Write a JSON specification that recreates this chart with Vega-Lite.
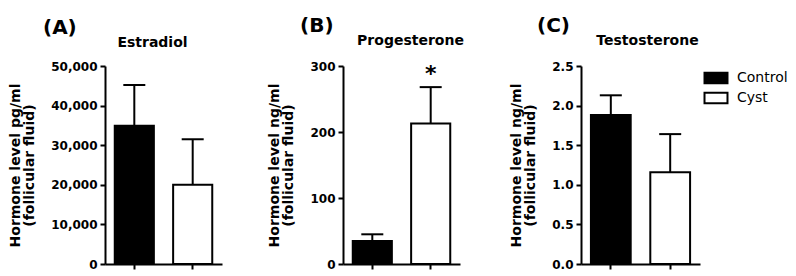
{
  "$schema": "https://vega.github.io/schema/vega-lite/v6.json",
  "background": "white",
  "padding": {"left": 8, "top": 16, "right": 0, "bottom": 0},
  "config": {
    "font": "DejaVu Sans",
    "view": {"stroke": null},
    "axis": {"grid": false, "domainColor": "black", "tickColor": "black", "labelColor": "black", "titleColor": "black", "labelOverlap": false},
    "title": {"color": "black", "fontWeight": "bold", "fontSize": 20, "anchor": "start", "frame": "group", "offset": -3}
  },
  "datasets": {
    "d": [
      {"hormone": "Estradiol", "group": "Control", "mean": 34900, "upper": 45200, "sig": ""},
      {"hormone": "Estradiol", "group": "Cyst", "mean": 20000, "upper": 31500, "sig": ""},
      {"hormone": "Progesterone", "group": "Control", "mean": 35, "upper": 45, "sig": ""},
      {"hormone": "Progesterone", "group": "Cyst", "mean": 213, "upper": 268, "sig": "*"},
      {"hormone": "Testosterone", "group": "Control", "mean": 1.88, "upper": 2.13, "sig": ""},
      {"hormone": "Testosterone", "group": "Cyst", "mean": 1.16, "upper": 1.64, "sig": ""}
    ]
  },
  "bounds": "flush",
  "spacing": 121,
  "hconcat": [
    {
      "width": 117, "height": 198,
      "title": {"text": "(A)", "dx": -62},
      "data": {"name": "d"},
      "transform": [{"filter": "datum.hormone === 'Estradiol'"}],
      "resolve": {"axis": {"x": "independent"}},
      "layer": [
        {
          "mark": {"type": "bar", "stroke": "black", "strokeWidth": 2},
          "encoding": {
            "x": {"field": "group", "type": "nominal", "sort": ["Control", "Cyst"], "scale": {"paddingInner": 0.33, "paddingOuter": 0.167},
                  "axis": {"orient": "bottom", "labels": false, "title": null, "domainWidth": 2, "tickWidth": 2, "tickSize": 5}},
            "y": {"field": "mean", "type": "quantitative", "scale": {"domain": [0, 50000], "nice": false},
                  "axis": {"title": ["Hormone level pg/ml", "(follicular fluid)"], "titleFontSize": 14, "titleFontWeight": "bold", "titleLineHeight": 14, "titlePadding": 14,
                           "values": [0, 10000, 20000, 30000, 40000, 50000], "format": ",d", "labelFontSize": 12, "labelFontWeight": "bold", "labelPadding": 3,
                           "domainWidth": 2, "tickWidth": 2, "tickSize": 5}},
            "fill": {"field": "group", "type": "nominal", "scale": {"domain": ["Control", "Cyst"], "range": ["black", "white"]},
                     "legend": {"title": null, "orient": "right", "offset": 4, "padding": 5, "labelFontSize": 14, "labelColor": "black", "labelFontWeight": "normal",
                                "symbolType": "M-2,-0.9H2V0.9H-2Z", "symbolSize": 132, "symbolStrokeColor": "black", "symbolStrokeWidth": 2, "symbolOpacity": 1,
                                "labelOffset": 14, "rowPadding": 0}}
          }
        },
        {
          "mark": {"type": "rule", "strokeWidth": 2, "color": "black"},
          "encoding": {
            "x": {"field": "group", "type": "nominal", "sort": ["Control", "Cyst"], "axis": null},
            "y": {"field": "mean", "type": "quantitative",
                  "axis": {"title": ["Hormone level pg/ml", "(follicular fluid)"], "titleFontSize": 14, "titleFontWeight": "bold", "titleLineHeight": 14, "titlePadding": 14,
                           "values": [0, 10000, 20000, 30000, 40000, 50000], "format": ",d", "labelFontSize": 12, "labelFontWeight": "bold", "labelPadding": 3,
                           "domainWidth": 2, "tickWidth": 2, "tickSize": 5}},
            "y2": {"field": "upper"}
          }
        },
        {
          "mark": {"type": "tick", "size": 22, "thickness": 2, "color": "black", "opacity": 1},
          "encoding": {
            "x": {"field": "group", "type": "nominal", "sort": ["Control", "Cyst"],
                  "axis": {"orient": "top", "labels": false, "ticks": false, "domain": false, "title": "Estradiol", "titleFontSize": 14, "titleFontWeight": "bold", "titlePadding": 17, "titleX": 47}},
            "y": {"field": "upper", "type": "quantitative",
                  "axis": {"title": ["Hormone level pg/ml", "(follicular fluid)"], "titleFontSize": 14, "titleFontWeight": "bold", "titleLineHeight": 14, "titlePadding": 14,
                           "values": [0, 10000, 20000, 30000, 40000, 50000], "format": ",d", "labelFontSize": 12, "labelFontWeight": "bold", "labelPadding": 3,
                           "domainWidth": 2, "tickWidth": 2, "tickSize": 5}}
          }
        }
      ]
    },
    {
      "width": 117, "height": 198,
      "title": {"text": "(B)", "dx": -43},
      "data": {"name": "d"},
      "transform": [{"filter": "datum.hormone === 'Progesterone'"}],
      "resolve": {"axis": {"x": "independent"}},
      "layer": [
        {
          "mark": {"type": "bar", "stroke": "black", "strokeWidth": 2},
          "encoding": {
            "x": {"field": "group", "type": "nominal", "sort": ["Control", "Cyst"], "scale": {"paddingInner": 0.33, "paddingOuter": 0.167},
                  "axis": {"orient": "bottom", "labels": false, "title": null, "domainWidth": 2, "tickWidth": 2, "tickSize": 5}},
            "y": {"field": "mean", "type": "quantitative", "scale": {"domain": [0, 300], "nice": false},
                  "axis": {"title": ["Hormone level ng/ml", "(follicular fluid)"], "titleFontSize": 14, "titleFontWeight": "bold", "titleLineHeight": 14, "titlePadding": 14,
                           "values": [0, 100, 200, 300], "format": "d", "labelFontSize": 12, "labelFontWeight": "bold", "labelPadding": 3,
                           "domainWidth": 2, "tickWidth": 2, "tickSize": 5}},
            "fill": {"field": "group", "type": "nominal", "scale": {"domain": ["Control", "Cyst"], "range": ["black", "white"]}}
          }
        },
        {
          "mark": {"type": "rule", "strokeWidth": 2, "color": "black"},
          "encoding": {
            "x": {"field": "group", "type": "nominal", "sort": ["Control", "Cyst"], "axis": null},
            "y": {"field": "mean", "type": "quantitative",
                  "axis": {"title": ["Hormone level ng/ml", "(follicular fluid)"], "titleFontSize": 14, "titleFontWeight": "bold", "titleLineHeight": 14, "titlePadding": 14,
                           "values": [0, 100, 200, 300], "format": "d", "labelFontSize": 12, "labelFontWeight": "bold", "labelPadding": 3,
                           "domainWidth": 2, "tickWidth": 2, "tickSize": 5}},
            "y2": {"field": "upper"}
          }
        },
        {
          "mark": {"type": "tick", "size": 22, "thickness": 2, "color": "black", "opacity": 1},
          "encoding": {
            "x": {"field": "group", "type": "nominal", "sort": ["Control", "Cyst"],
                  "axis": {"orient": "top", "labels": false, "ticks": false, "domain": false, "title": "Progesterone", "titleFontSize": 14, "titleFontWeight": "bold", "titlePadding": 19, "titleX": 67}},
            "y": {"field": "upper", "type": "quantitative",
                  "axis": {"title": ["Hormone level ng/ml", "(follicular fluid)"], "titleFontSize": 14, "titleFontWeight": "bold", "titleLineHeight": 14, "titlePadding": 14,
                           "values": [0, 100, 200, 300], "format": "d", "labelFontSize": 12, "labelFontWeight": "bold", "labelPadding": 3,
                           "domainWidth": 2, "tickWidth": 2, "tickSize": 5}}
          }
        },
        {
          "mark": {"type": "text", "fontSize": 22, "fontWeight": "bold", "color": "black", "baseline": "alphabetic", "dy": -6},
          "encoding": {
            "x": {"field": "group", "type": "nominal", "sort": ["Control", "Cyst"], "axis": null},
            "y": {"field": "upper", "type": "quantitative",
                  "axis": {"title": ["Hormone level ng/ml", "(follicular fluid)"], "titleFontSize": 14, "titleFontWeight": "bold", "titleLineHeight": 14, "titlePadding": 14,
                           "values": [0, 100, 200, 300], "format": "d", "labelFontSize": 12, "labelFontWeight": "bold", "labelPadding": 3,
                           "domainWidth": 2, "tickWidth": 2, "tickSize": 5}},
            "text": {"field": "sig"}
          }
        }
      ]
    },
    {
      "width": 119, "height": 198,
      "title": {"text": "(C)", "dx": -44},
      "data": {"name": "d"},
      "transform": [{"filter": "datum.hormone === 'Testosterone'"}],
      "resolve": {"axis": {"x": "independent"}},
      "layer": [
        {
          "mark": {"type": "bar", "stroke": "black", "strokeWidth": 2},
          "encoding": {
            "x": {"field": "group", "type": "nominal", "sort": ["Control", "Cyst"], "scale": {"paddingInner": 0.33, "paddingOuter": 0.167},
                  "axis": {"orient": "bottom", "labels": false, "title": null, "domainWidth": 2, "tickWidth": 2, "tickSize": 5}},
            "y": {"field": "mean", "type": "quantitative", "scale": {"domain": [0, 2.5], "nice": false},
                  "axis": {"title": ["Hormone level ng/ml", "(follicular fluid)"], "titleFontSize": 14, "titleFontWeight": "bold", "titleLineHeight": 14, "titlePadding": 14,
                           "values": [0, 0.5, 1, 1.5, 2, 2.5], "format": ".1f", "labelFontSize": 12, "labelFontWeight": "bold", "labelPadding": 3,
                           "domainWidth": 2, "tickWidth": 2, "tickSize": 5}},
            "fill": {"field": "group", "type": "nominal", "scale": {"domain": ["Control", "Cyst"], "range": ["black", "white"]}}
          }
        },
        {
          "mark": {"type": "rule", "strokeWidth": 2, "color": "black"},
          "encoding": {
            "x": {"field": "group", "type": "nominal", "sort": ["Control", "Cyst"], "axis": null},
            "y": {"field": "mean", "type": "quantitative",
                  "axis": {"title": ["Hormone level ng/ml", "(follicular fluid)"], "titleFontSize": 14, "titleFontWeight": "bold", "titleLineHeight": 14, "titlePadding": 14,
                           "values": [0, 0.5, 1, 1.5, 2, 2.5], "format": ".1f", "labelFontSize": 12, "labelFontWeight": "bold", "labelPadding": 3,
                           "domainWidth": 2, "tickWidth": 2, "tickSize": 5}},
            "y2": {"field": "upper"}
          }
        },
        {
          "mark": {"type": "tick", "size": 22, "thickness": 2, "color": "black", "opacity": 1},
          "encoding": {
            "x": {"field": "group", "type": "nominal", "sort": ["Control", "Cyst"],
                  "axis": {"orient": "top", "labels": false, "ticks": false, "domain": false, "title": "Testosterone", "titleFontSize": 14, "titleFontWeight": "bold", "titlePadding": 19, "titleX": 66}},
            "y": {"field": "upper", "type": "quantitative",
                  "axis": {"title": ["Hormone level ng/ml", "(follicular fluid)"], "titleFontSize": 14, "titleFontWeight": "bold", "titleLineHeight": 14, "titlePadding": 14,
                           "values": [0, 0.5, 1, 1.5, 2, 2.5], "format": ".1f", "labelFontSize": 12, "labelFontWeight": "bold", "labelPadding": 3,
                           "domainWidth": 2, "tickWidth": 2, "tickSize": 5}}
          }
        }
      ]
    }
  ]
}
